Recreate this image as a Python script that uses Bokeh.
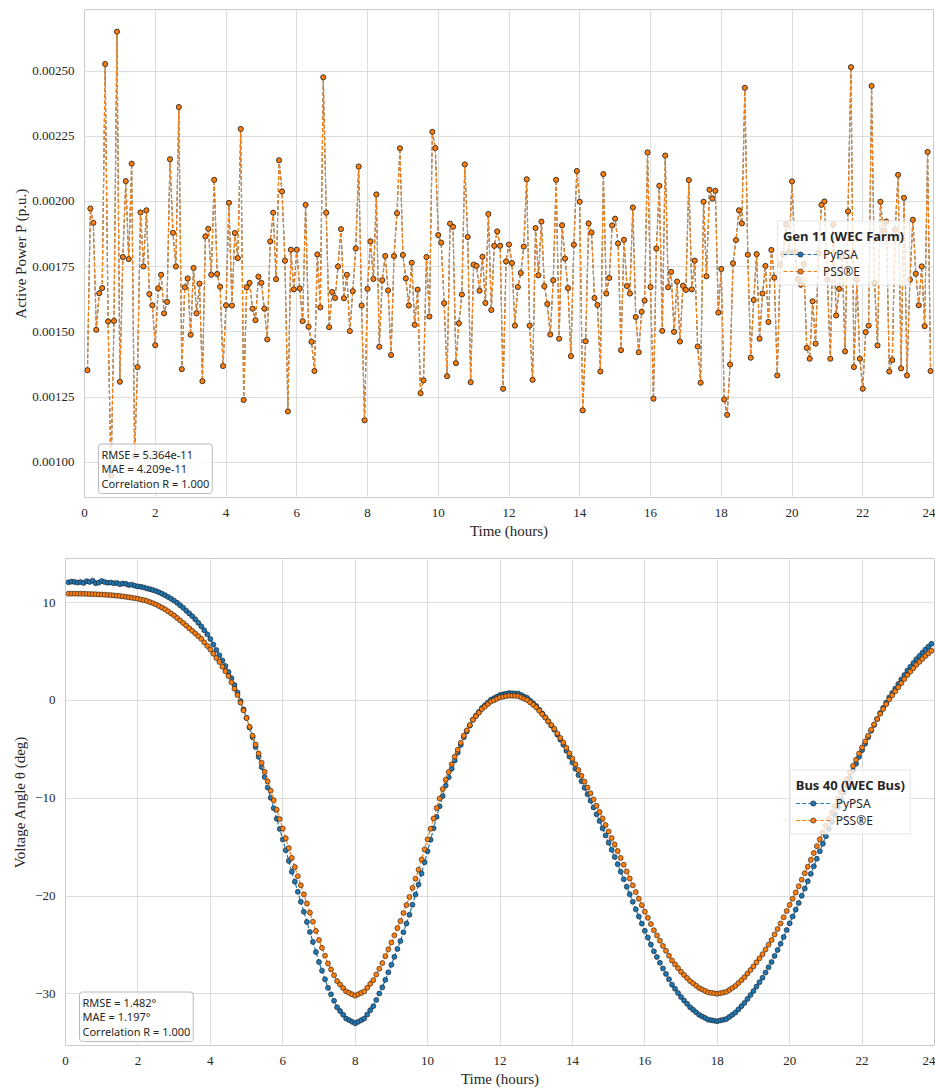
from bokeh.plotting import figure
from bokeh.models import Range1d, FixedTicker, PrintfTickFormatter, Legend, LegendItem, Label, ColumnDataSource
from bokeh.layouts import column
from bokeh.embed import file_html
from bokeh.resources import INLINE

# time stamps: every 5 minutes
hours = [k * 5 / 60 for k in range(1, 288)]

# Gen 11 (WEC Farm) active power, p.u. (PyPSA and PSS(R)E coincide)
active_power_pypsa = [
    0.001353, 0.001973, 0.001918, 0.001508, 0.001648, 0.001668, 0.002527, 0.001540, 0.000950, 0.001542, 0.002651, 0.001309,
    0.001787, 0.002078, 0.001779, 0.002145, 0.001024, 0.001365, 0.001958, 0.001751, 0.001966, 0.001645, 0.001602, 0.001449,
    0.001667, 0.001719, 0.001571, 0.001615, 0.002162, 0.001880, 0.001751, 0.002362, 0.001357, 0.001671, 0.001705, 0.001489,
    0.001745, 0.001571, 0.001685, 0.001311, 0.001866, 0.001895, 0.001719, 0.002083, 0.001722, 0.001673, 0.001369, 0.001602,
    0.001995, 0.001601, 0.001879, 0.001783, 0.002278, 0.001239, 0.001671, 0.001688, 0.001589, 0.001545, 0.001712, 0.001688,
    0.001589, 0.001471, 0.001847, 0.001957, 0.001702, 0.002158, 0.002038, 0.001773, 0.001195, 0.001815, 0.001663, 0.001815,
    0.001667, 0.001541, 0.001987, 0.001520, 0.001462, 0.001350, 0.001797, 0.001594, 0.002476, 0.001957, 0.001518, 0.001653,
    0.001630, 0.001751, 0.001894, 0.001629, 0.001719, 0.001503, 0.001656, 0.001820, 0.002134, 0.001601, 0.001161, 0.001665,
    0.001847, 0.001703, 0.002027, 0.001443, 0.001698, 0.001791, 0.001659, 0.001411, 0.001791, 0.001955, 0.002204, 0.001795,
    0.001705, 0.001601, 0.001765, 0.001527, 0.001662, 0.001265, 0.001314, 0.001787, 0.001559, 0.002267, 0.002205, 0.001871,
    0.001842, 0.001610, 0.001330, 0.001915, 0.001903, 0.001380, 0.001533, 0.001643, 0.002142, 0.001864, 0.001307, 0.001758,
    0.001753, 0.001658, 0.001788, 0.001611, 0.001952, 0.001584, 0.001830, 0.001885, 0.001830, 0.001282, 0.001770, 0.001835,
    0.001764, 0.001524, 0.001672, 0.001726, 0.001827, 0.002085, 0.001524, 0.001316, 0.001898, 0.001717, 0.001923, 0.001675,
    0.001607, 0.001490, 0.001698, 0.002083, 0.001474, 0.001909, 0.001781, 0.001668, 0.001407, 0.001834, 0.002117, 0.001999,
    0.001199, 0.001464, 0.001916, 0.001881, 0.001630, 0.001603, 0.001348, 0.002105, 0.001647, 0.001707, 0.001908, 0.001934,
    0.001839, 0.001430, 0.001853, 0.001676, 0.001647, 0.001977, 0.001557, 0.001422, 0.001577, 0.001620, 0.002188, 0.001672,
    0.001244, 0.001820, 0.002060, 0.001504, 0.002176, 0.001671, 0.001730, 0.001500, 0.001693, 0.001463, 0.001677, 0.001661,
    0.002082, 0.001663, 0.001773, 0.001444, 0.001305, 0.001999, 0.001713, 0.002045, 0.002011, 0.002041, 0.001574, 0.001741,
    0.001241, 0.001182, 0.001375, 0.001763, 0.001852, 0.001966, 0.001916, 0.002436, 0.001796, 0.001401, 0.001622, 0.001798,
    0.001474, 0.001647, 0.001753, 0.001538, 0.001814, 0.001708, 0.001333, 0.001758, 0.001798, 0.001912, 0.001806, 0.002077,
    0.001806, 0.001702, 0.001681, 0.001760, 0.001439, 0.001397, 0.001617, 0.001455, 0.001802, 0.001987, 0.002000, 0.001700,
    0.001397, 0.001912, 0.001563, 0.001665, 0.001787, 0.001425, 0.001962, 0.002515, 0.001365, 0.001700, 0.001397, 0.001282,
    0.001499, 0.001524, 0.002443, 0.001688, 0.001448, 0.001999, 0.001889, 0.001923, 0.001348, 0.001392, 0.001892, 0.002102,
    0.001360, 0.002014, 0.001333, 0.001700, 0.001930, 0.001723, 0.001602, 0.001751, 0.001522, 0.002190, 0.001350,
]
active_power_psse = list(active_power_pypsa)

# Bus 40 (WEC Bus) voltage angle, degrees
angle_pypsa = [
    12.08, 12.15, 12.12, 12.05, 12.10, 12.02, 12.20, 12.12, 12.25, 11.98, 12.05, 12.22,
    12.10, 12.03, 12.06, 11.98, 12.02, 11.88, 11.96, 11.92, 11.80, 11.84, 11.72, 11.66,
    11.62, 11.55, 11.45, 11.38, 11.28, 11.18, 11.05, 10.92, 10.76, 10.58, 10.40, 10.20,
    9.98, 9.74, 9.48, 9.18, 8.90, 8.62, 8.30, 7.95, 7.58, 7.18, 6.76, 6.28,
    5.72, 5.15, 4.62, 4.08, 3.52, 2.92, 2.28, 1.58, 0.82, -0.05, -0.92, -1.78,
    -2.77, -3.76, -4.75, -5.77, -6.81, -7.83, -8.90, -9.95, -11.02, -12.09, -13.14, -14.21,
    -15.31, -16.41, -17.51, -18.53, -19.57, -20.59, -21.61, -22.65, -23.67, -24.69, -25.73, -26.75,
    -27.63, -28.51, -29.39, -30.05, -30.71, -31.37, -31.76, -32.14, -32.53, -32.69, -32.86, -33.02,
    -32.86, -32.69, -32.53, -32.11, -31.68, -31.26, -30.62, -29.97, -29.34, -28.57, -27.80, -27.03,
    -26.22, -25.41, -24.61, -23.70, -22.81, -21.91, -20.89, -19.85, -18.83, -17.70, -16.55, -15.42,
    -14.24, -13.08, -11.90, -10.83, -9.78, -8.71, -7.85, -6.98, -6.13, -5.33, -4.55, -3.76,
    -3.17, -2.57, -1.98, -1.57, -1.18, -0.77, -0.49, -0.21, 0.07, 0.23, 0.39, 0.55,
    0.62, 0.68, 0.75, 0.73, 0.72, 0.70, 0.55, 0.40, 0.26, -0.02, -0.30, -0.57,
    -0.96, -1.34, -1.73, -2.14, -2.57, -2.99, -3.51, -4.01, -4.53, -5.14, -5.74, -6.35,
    -6.98, -7.63, -8.27, -8.93, -9.59, -10.25, -10.94, -11.65, -12.34, -13.08, -13.80, -14.54,
    -15.28, -16.00, -16.74, -17.51, -18.28, -19.05, -19.82, -20.59, -21.36, -22.10, -22.82, -23.56,
    -24.25, -24.96, -25.65, -26.23, -26.83, -27.41, -27.96, -28.51, -29.06, -29.48, -29.91, -30.33,
    -30.68, -31.02, -31.37, -31.62, -31.89, -32.14, -32.31, -32.47, -32.64, -32.69, -32.75, -32.80,
    -32.72, -32.66, -32.58, -32.36, -32.14, -31.92, -31.59, -31.26, -30.93, -30.52, -30.13, -29.72,
    -29.26, -28.81, -28.35, -27.82, -27.28, -26.75, -26.12, -25.51, -24.88, -24.19, -23.48, -22.79,
    -22.10, -21.39, -20.70, -19.96, -19.24, -18.50, -17.73, -16.96, -16.19, -15.42, -14.65, -13.88,
    -13.14, -12.42, -11.68, -10.91, -10.14, -9.37, -8.63, -7.91, -7.17, -6.48, -5.77, -5.08,
    -4.42, -3.76, -3.10, -2.50, -1.89, -1.29, -0.76, -0.22, 0.31, 0.77, 1.22, 1.69,
    2.15, 2.60, 3.06, 3.45, 3.83, 4.22, 4.55, 4.88, 5.21, 5.50, 5.79,
]
angle_psse = [
    10.92, 10.92, 10.92, 10.91, 10.91, 10.90, 10.89, 10.88, 10.87, 10.86, 10.84, 10.83,
    10.81, 10.79, 10.77, 10.74, 10.71, 10.68, 10.64, 10.59, 10.55, 10.50, 10.45, 10.40,
    10.32, 10.25, 10.17, 10.05, 9.94, 9.82, 9.65, 9.49, 9.32, 9.11, 8.89, 8.68,
    8.43, 8.17, 7.92, 7.65, 7.39, 7.12, 6.85, 6.57, 6.30, 5.93, 5.57, 5.20,
    4.78, 4.35, 3.93, 3.45, 2.98, 2.50, 1.85, 1.20, 0.55, -0.23, -1.02, -1.80,
    -2.70, -3.60, -4.50, -5.43, -6.37, -7.30, -8.27, -9.23, -10.20, -11.17, -12.13, -13.10,
    -14.10, -15.10, -16.10, -17.03, -17.97, -18.90, -19.83, -20.77, -21.70, -22.63, -23.57, -24.50,
    -25.30, -26.10, -26.90, -27.50, -28.10, -28.70, -29.05, -29.40, -29.75, -29.90, -30.05, -30.20,
    -30.05, -29.90, -29.75, -29.37, -28.98, -28.60, -28.02, -27.43, -26.85, -26.15, -25.45, -24.75,
    -24.02, -23.28, -22.55, -21.73, -20.92, -20.10, -19.17, -18.23, -17.30, -16.27, -15.23, -14.20,
    -13.13, -12.07, -11.00, -10.03, -9.07, -8.10, -7.32, -6.53, -5.75, -5.03, -4.32, -3.60,
    -3.06, -2.52, -1.98, -1.61, -1.25, -0.88, -0.63, -0.37, -0.12, 0.03, 0.17, 0.32,
    0.38, 0.44, 0.50, 0.48, 0.47, 0.45, 0.32, 0.18, 0.05, -0.20, -0.45, -0.70,
    -1.05, -1.40, -1.75, -2.13, -2.52, -2.90, -3.37, -3.83, -4.30, -4.85, -5.40, -5.95,
    -6.53, -7.12, -7.70, -8.30, -8.90, -9.50, -10.13, -10.77, -11.40, -12.07, -12.73, -13.40,
    -14.07, -14.73, -15.40, -16.10, -16.80, -17.50, -18.20, -18.90, -19.60, -20.27, -20.93, -21.60,
    -22.23, -22.87, -23.50, -24.03, -24.57, -25.10, -25.60, -26.10, -26.60, -26.98, -27.37, -27.75,
    -28.07, -28.38, -28.70, -28.93, -29.17, -29.40, -29.55, -29.70, -29.85, -29.90, -29.95, -30.00,
    -29.93, -29.87, -29.80, -29.60, -29.40, -29.20, -28.90, -28.60, -28.30, -27.93, -27.57, -27.20,
    -26.78, -26.37, -25.95, -25.47, -24.98, -24.50, -23.93, -23.37, -22.80, -22.17, -21.53, -20.90,
    -20.27, -19.63, -19.00, -18.33, -17.67, -17.00, -16.30, -15.60, -14.90, -14.20, -13.50, -12.80,
    -12.13, -11.47, -10.80, -10.10, -9.40, -8.70, -8.03, -7.37, -6.70, -6.07, -5.43, -4.80,
    -4.20, -3.60, -3.00, -2.45, -1.90, -1.35, -0.87, -0.38, 0.10, 0.52, 0.93, 1.35,
    1.77, 2.18, 2.60, 2.95, 3.30, 3.65, 3.95, 4.25, 4.55, 4.82, 5.08,
]

x_ticks = [0, 2, 4, 6, 8, 10, 12, 14, 16, 18, 20, 22, 24]
power_ticks = [0.00100, 0.00125, 0.00150, 0.00175, 0.00200, 0.00225, 0.00250]
angle_ticks = [-30, -20, -10, 0, 10]
angle_tick_labels = ["\u221230", "\u221220", "\u221210", "0", "10"]

power_stats = "RMSE = 5.364e-11\nMAE = 4.209e-11\nCorrelation R = 1.000"
angle_stats = "RMSE = 1.482\u00b0\nMAE = 1.197\u00b0\nCorrelation R = 1.000"

for arr in (active_power_pypsa, angle_pypsa, angle_psse):
    assert len(arr) == len(hours), len(arr)

BLUE = "#1f77b4"
ORANGE = "#ff7f0e"
EDGE = "#1a1a1a"
TXT = "#262626"
SERIF = "Liberation Serif"
SANS = "Noto Sans"


def padded(lo, hi):
    span = hi - lo
    return lo - 0.05 * span, hi + 0.05 * span


def make_fig(height, yvals_a, yvals_b, ylabel, left, right, top, bottom, ylabel_standoff):
    lo, hi = padded(min(min(yvals_a), min(yvals_b)), max(max(yvals_a), max(yvals_b)))
    p = figure(width=935, height=height, output_backend="svg", toolbar_location=None,
               x_range=Range1d(0, 24), y_range=Range1d(lo, hi),
               min_border_left=left, min_border_right=right, min_border_top=top, min_border_bottom=bottom)
    if "frame_align" in p.properties():
        p.frame_align = False
    p.background_fill_color = "white"
    p.border_fill_color = "white"
    p.outline_line_color = "#cccccc"
    p.outline_line_width = 1
    for ax in (p.xaxis[0], p.yaxis[0]):
        ax.axis_line_color = None
        ax.major_tick_line_color = None
        ax.minor_tick_line_color = None
        ax.major_label_text_font = SERIF
        ax.major_label_text_font_size = "13px"
        ax.major_label_text_color = TXT
        ax.axis_label_text_font = SERIF
        ax.axis_label_text_font_size = "15px"
        ax.axis_label_text_font_style = "normal"
        ax.axis_label_text_color = TXT
    p.xaxis.ticker = FixedTicker(ticks=x_ticks)
    p.xaxis.axis_label = "Time (hours)"
    p.xaxis.major_label_standoff = 5
    p.xaxis.axis_label_standoff = 3
    p.yaxis.axis_label = ylabel
    p.yaxis.major_label_standoff = 4
    p.yaxis.axis_label_standoff = ylabel_standoff
    p.xgrid.grid_line_color = "#dedede"
    p.ygrid.grid_line_color = "#dedede"
    p.xgrid.grid_line_width = 1
    p.ygrid.grid_line_width = 1

    src = ColumnDataSource(dict(t=hours, a=yvals_a, b=yvals_b))
    la = p.line("t", "a", source=src, line_color=BLUE, line_width=1.2, line_dash="4 2")
    sa = p.scatter("t", "a", source=src, size=5, fill_color=BLUE, line_color=EDGE, line_width=0.6)
    lb = p.line("t", "b", source=src, line_color=ORANGE, line_width=1.2, line_dash="4 2")
    sb = p.scatter("t", "b", source=src, size=5, fill_color=ORANGE, line_color=EDGE, line_width=0.6)
    return p, lo, [la, sa], [lb, sb]


def add_legend(p, title, ra, rb):
    leg = Legend(items=[LegendItem(label="PyPSA", renderers=ra),
                        LegendItem(label="PSS\u00aeE", renderers=rb)],
                 title=title, location="center_right")
    leg.title_text_font = SANS
    leg.title_text_font_style = "bold"
    leg.title_text_font_size = "13px"
    leg.title_text_color = TXT
    leg.title_standoff = 1
    leg.label_text_font = SANS
    leg.label_text_font_size = "12px"
    leg.label_text_color = TXT
    leg.background_fill_color = "white"
    leg.background_fill_alpha = 0.8
    leg.border_line_color = "#cccccc"
    leg.border_line_width = 1
    leg.margin = 23
    leg.padding = 5
    leg.spacing = 0
    leg.glyph_width = 34
    leg.glyph_height = 13
    leg.label_height = 13
    leg.label_standoff = 6
    p.add_layout(leg)


def add_stats(p, lo, text):
    lab = Label(x=0, y=lo, x_offset=14, y_offset=4, text=text,
                text_font=SANS, text_font_size="11px", text_color=TXT,
                text_align="left", text_baseline="bottom", text_line_height=0.95,
                background_fill_color="white", background_fill_alpha=0.8,
                border_line_color="#bbbbbb", border_line_width=1,
                padding=3, border_radius=3)
    p.add_layout(lab)


p1, lo1, ra1, rb1 = make_fig(545, active_power_pypsa, active_power_psse, "Active Power P (p.u.)",
                             84, 2, 9, 48, 0)
p1.yaxis.ticker = FixedTicker(ticks=power_ticks)
p1.yaxis.formatter = PrintfTickFormatter(format="%.5f")
add_legend(p1, "Gen 11 (WEC Farm)", ra1, rb1)
add_stats(p1, lo1, power_stats)

p2, lo2, ra2, rb2 = make_fig(544, angle_pypsa, angle_psse, "Voltage Angle \u03b8 (deg)",
                             65, 1, 13, 44, 4)
p2.yaxis.ticker = FixedTicker(ticks=angle_ticks)
p2.yaxis.major_label_overrides = {v: s for v, s in zip(angle_ticks, angle_tick_labels)}
add_legend(p2, "Bus 40 (WEC Bus)", ra2, rb2)
add_stats(p2, lo2, angle_stats)

layout = column(p1, p2, spacing=0)
open("out.html", "w").write(file_html(layout, INLINE))
